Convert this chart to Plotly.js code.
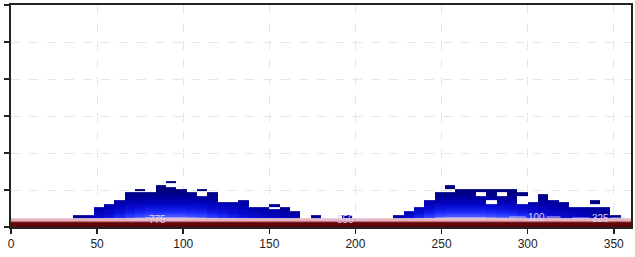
<!DOCTYPE html>
<html><head><meta charset="utf-8">
<script src="https://cdn.plot.ly/plotly-3.0.1.min.js"></script>
<style>html,body{margin:0;padding:0;background:#fff}#chart{width:635px;height:257px}</style>
</head><body><div id="chart"></div>
<script>
// x tick labels
const xTicks = [0, 50, 100, 150, 200, 250, 300, 350];
// column bins (degrees): 60 bins of 6
const binEdges = [0,6,12,18,24,30,36,42,48,54,60,66,72,78,84,90,96,102,108,114,120,126,132,138,144,150,156,162,168,174,180,186,192,198,204,210,216,222,228,234,240,246,252,258,264,270,276,282,288,294,300,306,312,318,324,330,336,342,348,354,360];
// top of the filled region in each bin (y units)
const columnTops = [
  0, 0, 0, 0, 0, 0, 3.05, 3.05, 5.1, 6.2,
  7.3, 9.3, 10.3, 9.3, 11.3, 12.3, 10.3, 9.3, 10.3, 9.1,
  6.4, 6.4, 7.3, 5.2, 5.2, 6.3, 5.2, 4.1, 0, 3.05,
  0, 0, 3.05, 0, 0, 0, 0, 3.05, 4.1, 5.2,
  7.3, 9.3, 11.35, 10.3, 10.3, 10.3, 10.3, 10.3, 10.3, 9.3,
  6.4, 8.4, 7.3, 6.4, 5.2, 5.2, 7.3, 5.2, 3.05, 0
];
// brightness of the low part of each bin (0 = stays navy)
const columnGlow = [
  0, 0, 0, 0, 0, 0, 0.1, 0.2, 0.35, 0.5,
  0.65, 0.8, 0.9, 1, 1, 1, 1, 0.95, 0.9, 0.8,
  0.7, 0.6, 0.5, 0.4, 0.35, 0.3, 0.25, 0.2, 0, 0.1,
  0, 0, 0.1, 0, 0, 0, 0, 0.2, 0.4, 0.6,
  0.8, 0.95, 1, 1, 1, 1, 0.95, 0.9, 0.85, 0.75,
  0.65, 0.55, 0.45, 0.4, 0.35, 0.3, 0.25, 0.2, 0.1, 0
];
// empty cells inside the region: [bin, from, to]
const holes = [
  [12, 9.3, 9.8], [15, 10.8, 11.8], [18, 8.3, 9.6], [25, 4.8, 5.5],
  [42, 9.3, 10.5], [45, 8.4, 9.3], [46, 6.4, 7.3], [47, 8.4, 9.3],
  [49, 6.4, 8.4], [56, 5.2, 6.4]
];
// vertical rows of the field and their shade (1 = bright, 0 = navy)
const rowEdges = [2.35, 2.8, 3.3, 3.8, 4.3, 4.8, 5.3, 5.8, 6.3, 6.8, 7.3, 7.8, 8.3, 8.8, 9.3, 9.8, 10.3, 10.8, 11.3, 11.8, 12.4];
const rowShade = [0.95, 0.8, 0.67, 0.57, 0.49, 0.42, 0.36, 0.3, 0.25, 0.2, 0.15, 0.11, 0.07, 0.04, 0.02, 0.01, 0, 0, 0, 0];
// bottom band rows
const bandEdges = [0, 1.2, 1.5, 2.35];
const bandShade = [0, 0.55, 1];
// contour labels
const contourText = ['775', '550', '100', '325'];
const contourX = [85, 194.5, 305, 342];
const contourY = [1.9, 1.9, 2.7, 2.4];

const z = [];
for (let r = 0; r < rowShade.length; r++) {
  const yc = (rowEdges[r] + rowEdges[r + 1]) / 2;
  const row = [];
  for (let c = 0; c < columnTops.length; c++) {
    let v = yc < columnTops[c] + 0.2 ? rowShade[r] * columnGlow[c] : null;
    holes.forEach(h => { if (h[0] === c && yc > h[1] && yc < h[2]) v = null; });
    row.push(v);
  }
  z.push(row);
}
const bandZ = bandShade.map(s => binEdges.slice(1).map(() => s));

const traces = [
  {
    type: 'heatmap', x: binEdges, y: bandEdges, z: bandZ, zmin: 0, zmax: 1,
    colorscale: [[0, '#5e0606'], [0.55, '#b0505c'], [1, '#e6b4be']],
    showscale: false, hoverinfo: 'skip'
  },
  {
    type: 'heatmap', x: binEdges, y: rowEdges, z: z, zmin: 0, zmax: 1,
    colorscale: [[0, '#00007c'], [0.15, '#0000aa'], [0.35, '#080cd4'], [0.6, '#2030ff'], [0.8, '#4a58ff'], [1, '#c8bcf0']],
    showscale: false, hoverinfo: 'skip'
  }
];

const shapes = [];
contourX.forEach((cx, i) => {
  shapes.push({type: 'line', xref: 'x', yref: 'y', x0: cx - 16, x1: cx - 6, y0: contourY[i], y1: contourY[i], line: {color: '#d4c6f0', width: 1}});
  shapes.push({type: 'line', xref: 'x', yref: 'y', x0: cx + 6, x1: cx + 14, y0: contourY[i], y1: contourY[i], line: {color: '#d4c6f0', width: 1}});
});

const annotations = contourText.map((t, i) => ({
  x: contourX[i], y: contourY[i], xref: 'x', yref: 'y', text: t, showarrow: false,
  font: {family: 'Liberation Sans, Arial, sans-serif', size: 10, color: '#dcd0f4'}
}));

const axisCommon = {
  showline: true, linecolor: '#222', linewidth: 2, mirror: true,
  ticks: 'outside', ticklen: 5, tickwidth: 1.5, tickcolor: '#222',
  showgrid: true, gridcolor: '#e6e6e6', griddash: 'dash', gridwidth: 1, zeroline: false
};

const layout = {
  width: 635, height: 257,
  margin: {l: 11, r: 4, t: 5, b: 30},
  paper_bgcolor: '#fff', plot_bgcolor: '#fff',
  showlegend: false,
  xaxis: Object.assign({}, axisCommon, {
    range: [0, 360], tickvals: xTicks, ticktext: xTicks.map(String),
    tickfont: {family: 'Liberation Sans, Arial, sans-serif', size: 12, color: '#222'}
  }),
  yaxis: Object.assign({}, axisCommon, {
    range: [0, 60], tick0: 0, dtick: 10, showticklabels: false
  }),
  shapes: shapes,
  annotations: annotations
};

Plotly.newPlot('chart', traces, layout, {staticPlot: true, displayModeBar: false});
</script>
</body></html>
